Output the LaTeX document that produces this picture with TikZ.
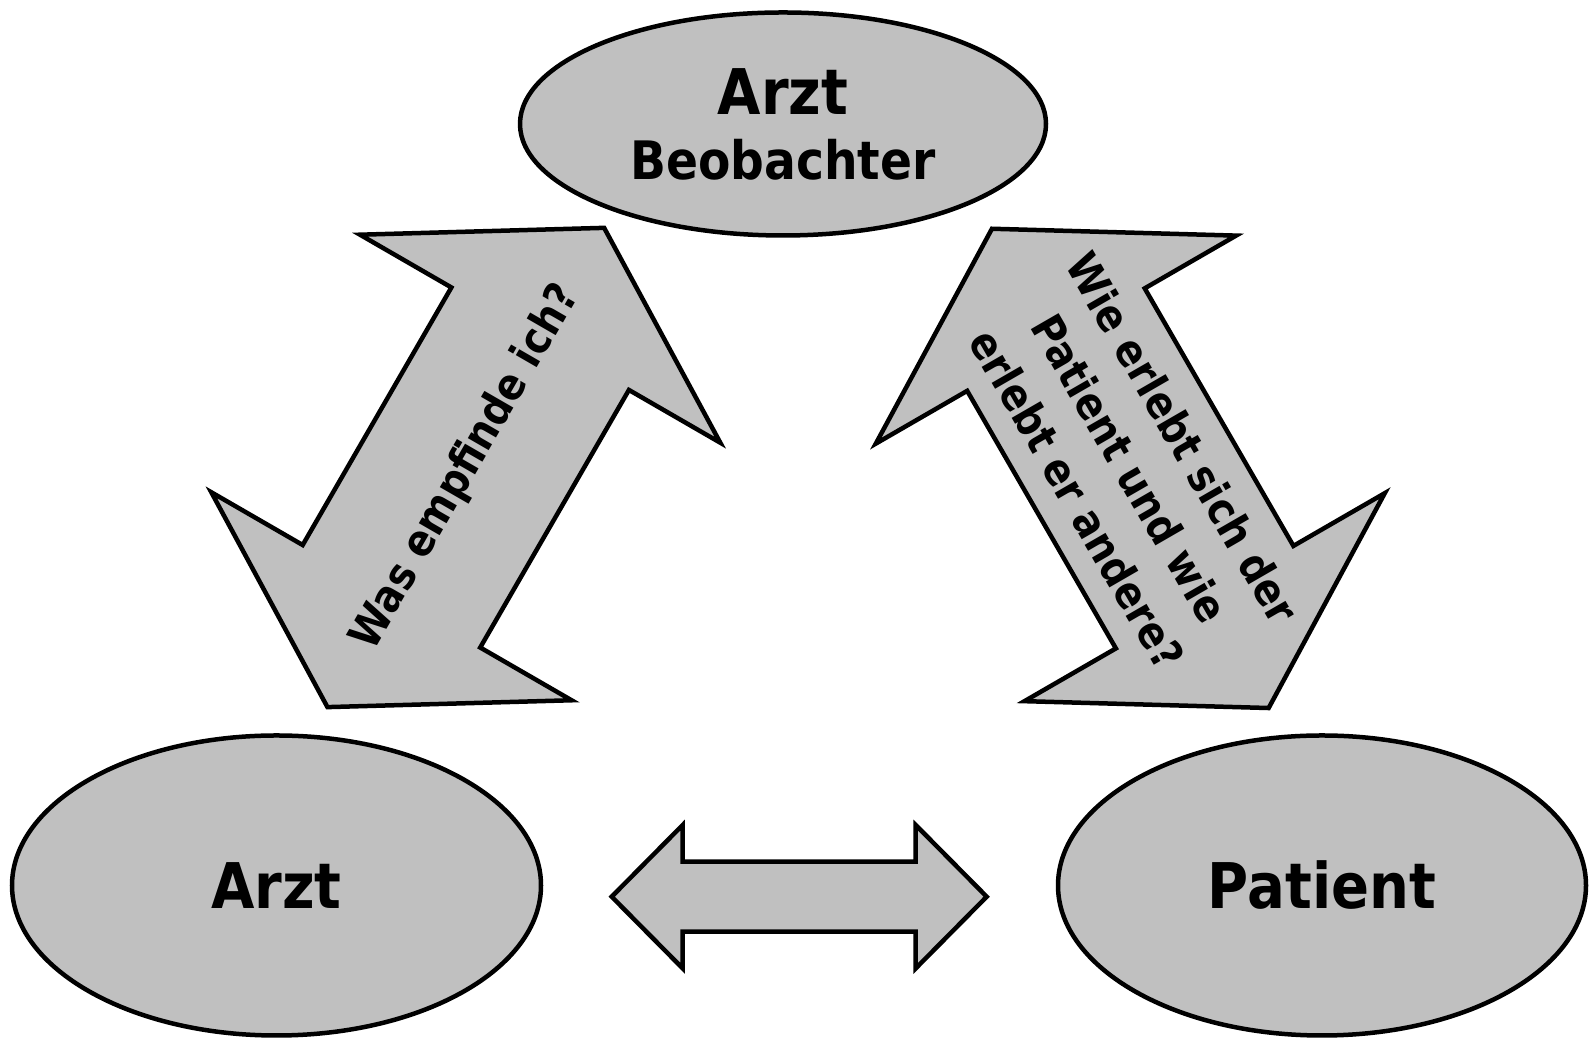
\documentclass[tikz,border=0pt]{standalone}
\usepackage{fontspec}
\setmainfont{DejaVu Sans}[FakeStretch=0.89]
\usetikzlibrary{shapes.geometric}
\definecolor{silber}{RGB}{192,192,192}

\begin{document}
\begin{tikzpicture}[x=1pt,y=1pt,
  rolle/.style={ellipse,draw=black,fill=silber,line width=4.5pt,inner sep=0pt,font=\bfseries\fontsize{63}{65}\selectfont},
  pfeil/.style={draw=black,fill=silber,line width=4.5pt},
  frage/.style={font=\bfseries\fontsize{44}{61}\selectfont,align=center,inner sep=0pt}]
%Rahmen wie im Original: 1591 x 1040
\useasboundingbox (0,0) rectangle (1591,1040);
%Doppelpfeile: Mitte x/y, Winkel, halbe Laenge, Kopflaenge, halbe Kopfbreite, halbe Schaftbreite
\foreach \mx/\my/\winkel/\lang/\kopf/\breit/\schaft in {465.8/572.5/60/276.7/128/208/102.5,1130.3/571.6/-60/276.7/128/208/102.5,799.2/143.3/0/187.5/71/71.7/35}{
\begin{scope}[shift={(\mx,\my)},rotate=\winkel]
\draw[pfeil] (-\lang,0) -- (-\lang+\kopf,\breit) -- (-\lang+\kopf,\schaft) -- (\lang-\kopf,\schaft) -- (\lang-\kopf,\breit) -- (\lang,0) -- (\lang-\kopf,-\breit) -- (\lang-\kopf,-\schaft) -- (-\lang+\kopf,-\schaft) -- (-\lang+\kopf,-\breit) -- cycle;
\end{scope}
}
%Die drei Rollen
\node[rolle,minimum width=526,minimum height=223,align=center] (beobachter) at (783,916) {Arzt\\{\fontsize{53}{65}\selectfont Beobachter}};
\node[rolle,minimum width=529,minimum height=300] (arzt) at (276.5,154.5) {Arzt};
\node[rolle,minimum width=528,minimum height=300] (patient) at (1322,154.5) {Patient};
%Fragen auf den schraegen Pfeilen
\node[frage,rotate=60] (empfinden) at (465.8,572.5) {Was empfinde ich?};
\node[frage,rotate=-60] (erleben) at (1130.3,571.6) {Wie erlebt sich der\\Patient und wie\\erlebt er andere?};
\end{tikzpicture}
\end{document}
